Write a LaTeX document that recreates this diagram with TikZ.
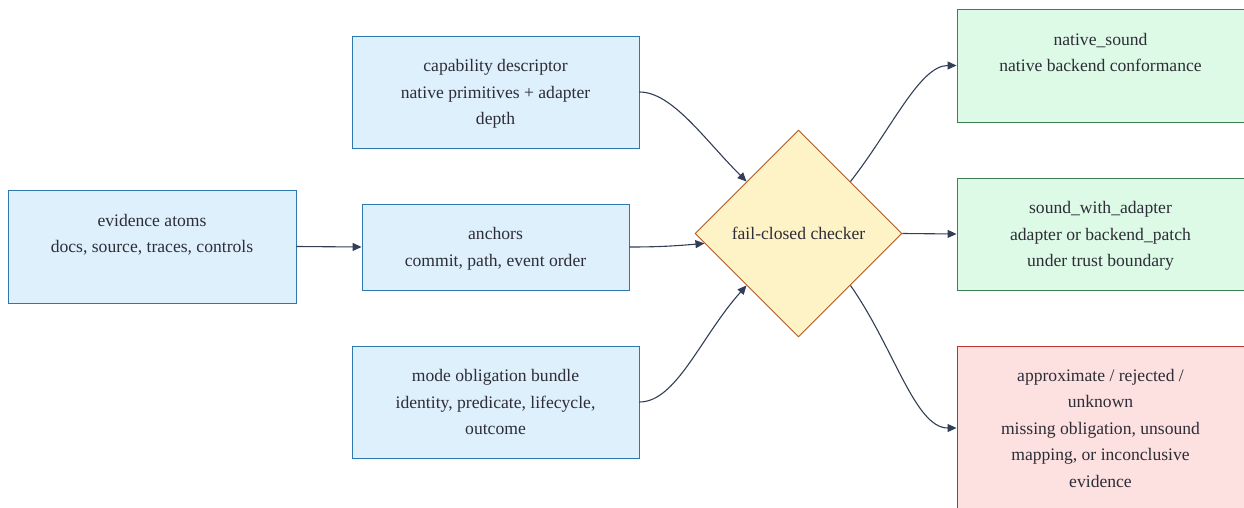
\documentclass[tikz,border=0pt]{standalone}
\usepackage{fontspec}
\setmainfont{Liberation Serif}
\usetikzlibrary{shapes.geometric}
\usetikzlibrary{arrows.meta}
\definecolor{inblue}{RGB}{222,240,252}
\definecolor{inblue-line}{RGB}{45,120,175}
\definecolor{okgreen}{RGB}{220,250,230}
\definecolor{okgreen-line}{RGB}{60,130,80}
\definecolor{badred}{RGB}{253,224,224}
\definecolor{badred-line}{RGB}{185,50,50}
\definecolor{gate}{RGB}{254,242,199}
\definecolor{gate-line}{RGB}{175,90,30}
\definecolor{slate}{RGB}{50,62,85}
\definecolor{ink}{RGB}{45,45,55}

\begin{document}
\begin{tikzpicture}[x=1pt, y=1pt,
    every node/.style={font=\fontsize{17.6}{26.5}\selectfont, text=ink, align=center},
    inbox/.style={draw=inblue-line, fill=inblue, line width=0.9pt, minimum width=287, minimum height=112, inner sep=0, text depth=0pt},
    okbox/.style={draw=okgreen-line, fill=okgreen, line width=0.9pt, minimum width=287, minimum height=113, inner sep=0, text depth=0pt},
    badbox/.style={draw=badred-line, fill=badred, line width=0.9pt, minimum width=287, minimum height=164, inner sep=0, text depth=0pt},
    flow/.style={draw=slate, line width=1.1pt, -{Triangle[length=9pt,width=8pt]}},
    inbend/.style={out looseness=0.6, in looseness=1.1},
    outbend/.style={out looseness=1.1, in looseness=0.6}]

    \useasboundingbox (0,0) rectangle (1244,-508);

    % inputs
    \node[inbox, minimum width=288, minimum height=113] (atoms) at (152,-246.5) {evidence atoms\\docs, source, traces, controls\\\strut};
    \node[inbox] (caps) at (495.5,-92) {capability descriptor\\native primitives + adapter\\depth};
    \node[inbox, minimum width=267, minimum height=86] (anchors) at (495.5,-247) {anchors\\commit, path, event order};
    \node[inbox] (mode) at (495.5,-402) {mode obligation bundle\\identity, predicate, lifecycle,\\outcome};

    % checker
    \node[diamond, draw=gate-line, fill=gate, line width=0.9pt, minimum width=207, minimum height=207, inner sep=0] (checker) at (798.5,-233.5) {fail-closed checker};

    % verdicts
    \node[okbox] (native) at (1100.5,-65.5) {native\_sound\\native backend conformance\\\strut};
    \node[okbox, minimum height=112] (adapter) at (1100.5,-234) {sound\_with\_adapter\\adapter or backend\_patch\\under trust boundary};
    \node[badbox] (approx) at (1100.5,-428) {approximate / rejected /\\unknown\\missing obligation, unsound\\mapping, or inconclusive\\evidence};

    \draw[flow] (atoms.east) -- (anchors.west);
    \draw[flow] (caps.east) to[out=0, in=135, inbend] (checker.north west);
    \draw[flow] (anchors.east) to[out=0, in=185] (checker.186);
    \draw[flow] (mode.east) to[out=0, in=228, inbend] (checker.south west);

    \draw[flow] (checker.north east) to[out=52, in=180, outbend] (native.west);
    \draw[flow] (checker.east) -- (adapter.west);
    \draw[flow] (checker.south east) to[out=-55, in=180, outbend] (approx.west);

\end{tikzpicture}
\end{document}
